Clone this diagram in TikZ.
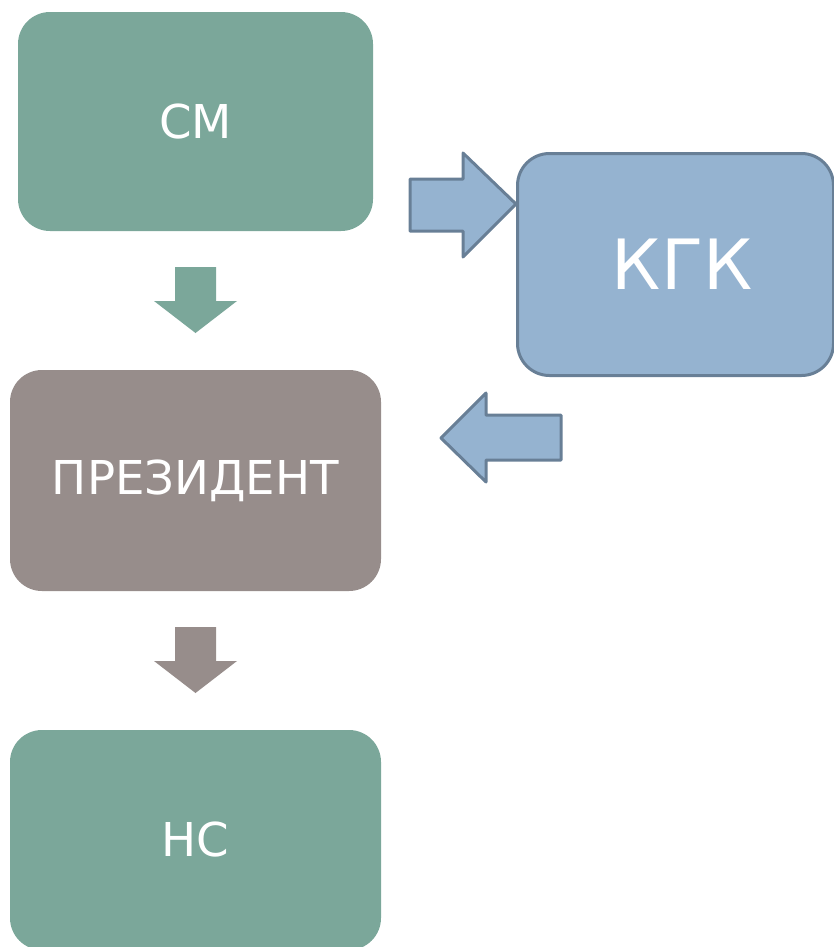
\documentclass[tikz,border=0pt]{standalone}
\usepackage{fontspec}
\setmainfont{DejaVu Sans}
\definecolor{teal1}{HTML}{7BA79A}
\definecolor{taupe}{HTML}{978D8B}
\definecolor{blue1}{HTML}{95B3D0}
\definecolor{blueline}{HTML}{687F96}
\begin{document}
\begin{tikzpicture}[x=0.75pt, y=-0.75pt,
	box/.style={rounded corners=24pt, text=white, font=\fontsize{35}{42}\selectfont, inner sep=0pt},
	blockarrow/.style={draw=blueline, fill=blue1, line width=2.25pt, line join=round}]
		\useasboundingbox (0,0) rectangle (833,947);
		\node[box, fill=teal1, minimum width=266.25pt, minimum height=164.25pt] (cm) at (195.5,121.5) {СМ};
		\node[box, fill=taupe, minimum width=278.25pt, minimum height=165.75pt] (pres) at (195.5,480.5) {ПРЕЗИДЕНТ};
		\node[box, fill=teal1, minimum width=278.25pt, minimum height=165pt] (ns) at (195.5,840) {НС};
		\node[box, fill=blue1, draw=blueline, line width=2.25pt, minimum width=237pt, minimum height=166.5pt] (kgk) at (675.5,264.5) {};
		\node[text=white, font=\fontsize{52}{62}\selectfont, inner sep=0pt] (kgktext) at ([xshift=5pt]kgk.center) {КГК};
		% down arrows
		\fill[teal1] (175,267) -- (216,267) -- (216,301) -- (237,301) -- (195.5,333) -- (154,301) -- (175,301) -- cycle;
		\fill[taupe] (175,627) -- (216,627) -- (216,661) -- (237,661) -- (195.5,693) -- (154,661) -- (175,661) -- cycle;
		% arrows to and from kgk
		\draw[blockarrow] (410,179) -- (463,179) -- (463,153) -- (kgk.west |- 0,204) -- (463,257) -- (463,231) -- (410,231) -- cycle;
		\draw[blockarrow] (561,415) -- (486,415) -- (486,393) -- (441,438) -- (486,482) -- (486,460) -- (561,460) -- cycle;
\end{tikzpicture}
\end{document}
